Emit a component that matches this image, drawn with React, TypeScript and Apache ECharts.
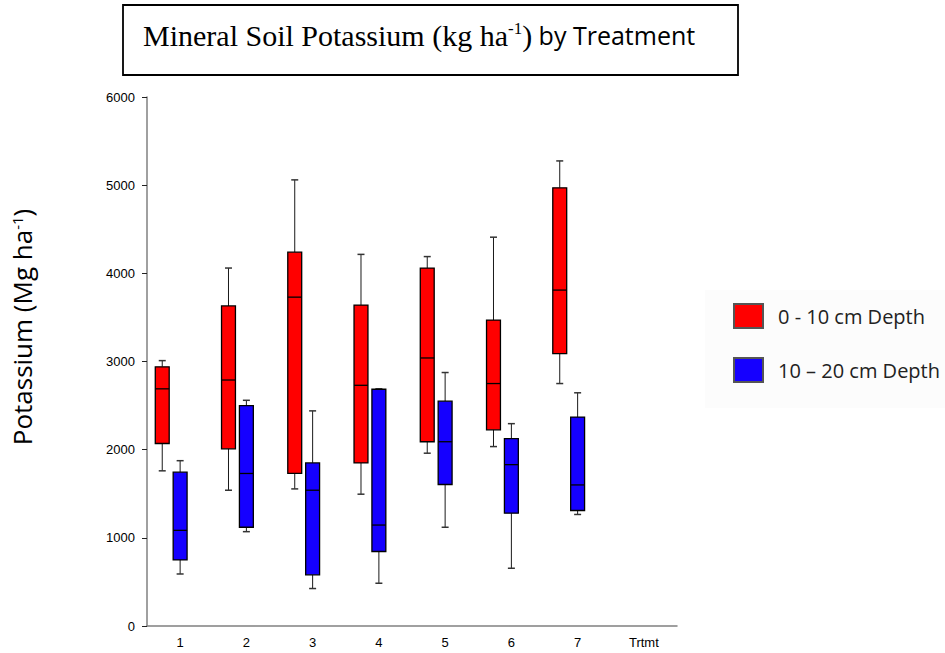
import React, { useEffect, useRef } from 'react';
import * as echarts from 'echarts';

const categories = ['1', '2', '3', '4', '5', '6', '7', 'Trtmt'];
const seriesNames = ['0 - 10 cm Depth', '10 \u2013 20 cm Depth'];
const seriesColors = ['#ff0000', '#1500ff'];

// [min, q1, median, q3, max]
const shallowBoxes = [
  [1760, 2070, 2690, 2940, 3010],
  [1540, 2010, 2790, 3630, 4060],
  [1555, 1730, 3730, 4240, 5060],
  [1495, 1850, 2730, 3640, 4215],
  [1960, 2090, 3040, 4060, 4190],
  [2035, 2225, 2750, 3470, 4410],
  [2750, 3090, 3810, 4970, 5275],
];
const deepBoxes = [
  [590, 750, 1085, 1745, 1875],
  [1070, 1120, 1730, 2500, 2560],
  [425, 580, 1540, 1850, 2440],
  [485, 845, 1145, 2685, 2690],
  [1120, 1605, 2090, 2550, 2875],
  [655, 1280, 1830, 2125, 2295],
  [1265, 1310, 1600, 2370, 2645],
];

const yMin = 0;
const yMax = 6000;
const yInterval = 1000;

function makeRender(offsetFrac: number, fill: string) {
  return (params: any, api: any) => {
    const i = api.value(0);
    const band = api.size([1, 0])[0];
    const cx = api.coord([i, 0])[0] + offsetFrac * band;
    const w = band * 0.21;
    const y = (k: number) => api.coord([i, api.value(k)])[1];
    const vMin = y(1), q1 = y(2), med = y(3), q3 = y(4), vMax = y(5);
    const capW = 7;
    const wl = { stroke: '#1a1a1a', lineWidth: 1 };
    const cl = { stroke: '#333', lineWidth: 1.5 };
    return {
      type: 'group',
      children: [
        { type: 'line', shape: { x1: cx, y1: q3, x2: cx, y2: vMax }, style: wl },
        { type: 'line', shape: { x1: cx - capW / 2, y1: vMax, x2: cx + capW / 2, y2: vMax }, style: cl },
        { type: 'line', shape: { x1: cx, y1: q1, x2: cx, y2: vMin }, style: wl },
        { type: 'line', shape: { x1: cx - capW / 2, y1: vMin, x2: cx + capW / 2, y2: vMin }, style: cl },
        {
          type: 'rect',
          shape: { x: cx - w / 2, y: q3, width: w, height: q1 - q3 },
          style: { fill, stroke: '#000', lineWidth: 1.3 },
        },
        { type: 'line', shape: { x1: cx - w / 2, y1: med, x2: cx + w / 2, y2: med }, style: { stroke: '#000', lineWidth: 1.3 } },
      ],
    };
  };
}

export default function App() {
  const ref = useRef<HTMLDivElement>(null);
  useEffect(() => {
    if (!ref.current) return;
    const chart = echarts.init(ref.current, null, { renderer: 'svg' });
    const option: any = {
      animation: false,
      backgroundColor: '#ffffff',
      grid: { left: 147, top: 97, width: 530, bottom: 27, containLabel: false },
      legend: {
        data: seriesNames,
        orient: 'vertical',
        left: 705,
        top: 290,
        icon: 'rect',
        itemWidth: 29,
        itemHeight: 24,
        itemGap: 28,
        itemStyle: { borderColor: '#555', borderWidth: 2 },
        backgroundColor: '#fcfcfc',
        padding: [13, 5, 25, 28],
        selectedMode: false,
        textStyle: { fontFamily: 'Open Sans', fontSize: 20, color: '#222', padding: [0, 0, 0, 10] },
      },
      xAxis: {
        type: 'category',
        data: categories,
        axisLine: { lineStyle: { color: '#808080', width: 1.5 } },
        axisTick: { alignWithLabel: true, length: 5, lineStyle: { color: '#222', width: 1 } },
        axisLabel: { color: '#000', fontFamily: 'Liberation Sans', fontSize: 13, margin: 10 },
        splitLine: { show: false },
      },
      yAxis: {
        type: 'value',
        min: yMin,
        max: yMax,
        interval: yInterval,
        axisLine: { show: true, lineStyle: { color: '#808080', width: 1.5 } },
        axisTick: { show: true, length: 5, lineStyle: { color: '#222', width: 1 } },
        axisLabel: {
          color: '#000',
          fontFamily: 'Liberation Sans',
          fontSize: 13,
          margin: 12,
          formatter: (v: number) => String(v),
        },
        splitLine: { show: false },
      },
      series: [
        {
          name: seriesNames[0],
          type: 'custom',
          silent: true,
          itemStyle: { color: seriesColors[0] },
          dimensions: ['x', 'min', 'q1', 'median', 'q3', 'max'],
          encode: { x: 0, y: [1, 2, 3, 4, 5] },
          renderItem: makeRender(-0.27, seriesColors[0]),
          data: shallowBoxes.map((b, i) => [i, ...b]),
        },
        {
          name: seriesNames[1],
          type: 'custom',
          silent: true,
          itemStyle: { color: seriesColors[1] },
          dimensions: ['x', 'min', 'q1', 'median', 'q3', 'max'],
          encode: { x: 0, y: [1, 2, 3, 4, 5] },
          renderItem: makeRender(0, seriesColors[1]),
          data: deepBoxes.map((b, i) => [i, ...b]),
        },
      ],
      graphic: [
        {
          type: 'rect',
          shape: { x: 123, y: 5, width: 615, height: 70 },
          style: { fill: '#fff', stroke: '#000', lineWidth: 1.8 },
          silent: true,
        },
        {
          type: 'text',
          x: 143,
          y: 35,
          silent: true,
          style: {
            text: '{a|Mineral Soil Potassium (kg ha}{s|-1}{a|)}{b| by Treatment}',
            verticalAlign: 'middle',
            rich: {
              a: { fontFamily: 'Liberation Serif', fontSize: 30, fill: '#000' },
              s: { fontFamily: 'Liberation Serif', fontSize: 17, fill: '#000', verticalAlign: 'top' },
              b: { fontFamily: 'Open Sans', fontSize: 25, fill: '#000' },
            },
          },
        },
        {
          type: 'text',
          x: 22,
          y: 327,
          rotation: Math.PI / 2,
          silent: true,
          style: {
            text: '{a|Potassium (Mg ha}{s|-1}{a|)}',
            align: 'center',
            verticalAlign: 'middle',
            rich: {
              a: { fontFamily: 'Open Sans', fontSize: 26, fill: '#000' },
              s: { fontFamily: 'Open Sans', fontSize: 15, fill: '#000', verticalAlign: 'top' },
            },
          },
        },
      ],
    };
    chart.setOption(option);
    return () => chart.dispose();
  }, []);
  return <div ref={ref} style={{ position: 'fixed', left: 0, top: 0, width: 945, height: 653 }} />;
}
